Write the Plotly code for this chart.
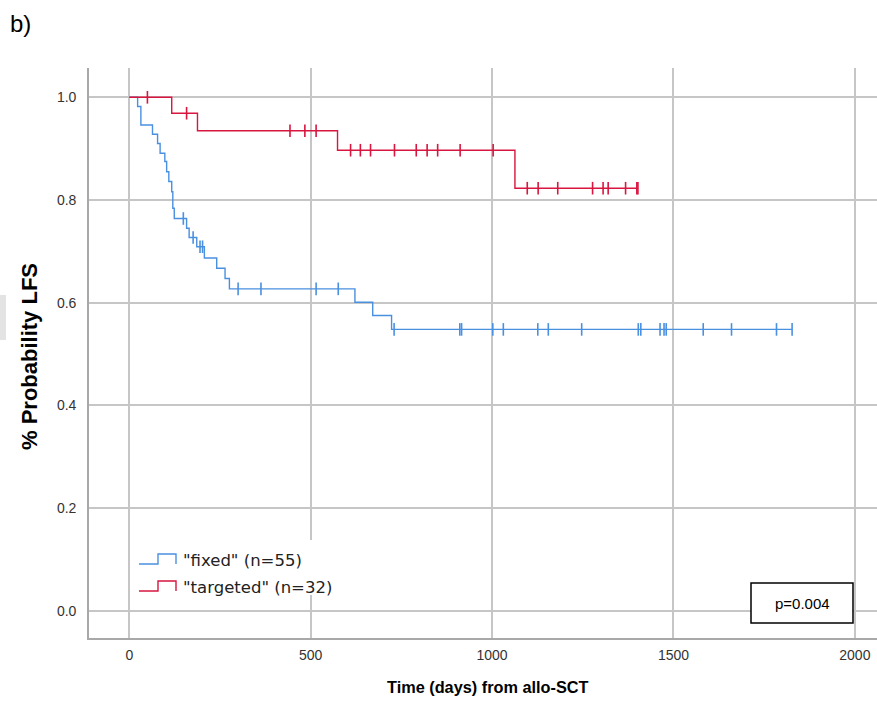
import numpy as np
import plotly.graph_objects as go

# ---------------- data ----------------
fixed_times = [0, 23, 32, 64, 78, 85, 98, 103, 109, 117, 120, 124, 158, 165, 186,
               207, 241, 264, 276, 622, 671, 723]
fixed_surv = [1.0, 0.982, 0.946, 0.928, 0.910, 0.891, 0.875, 0.855, 0.836, 0.816,
              0.784, 0.764, 0.745, 0.727, 0.709, 0.687, 0.667, 0.647, 0.627,
              0.601, 0.575, 0.548]
fixed_censor = [149, 176, 195, 202, 300, 363, 515, 576, 730, 911, 916, 1002, 1031,
                1126, 1155, 1247, 1403, 1410, 1463, 1474, 1480, 1582, 1660, 1784, 1827]

targ_times = [0, 117, 188, 574, 1063]
targ_surv = [1.0, 0.969, 0.935, 0.897, 0.823]
targ_censor = [50, 158, 443, 484, 515, 610, 637, 665, 731, 791, 821, 850, 912, 1003,
               1097, 1127, 1181, 1277, 1306, 1320, 1368, 1399, 1402]

legend_labels = ['"fixed" (n=55)', '"targeted" (n=32)']
x_ticks = [0, 500, 1000, 1500, 2000]
y_ticks = [0.0, 0.2, 0.4, 0.6, 0.8, 1.0]
y_ticktext = ["0.0", "0.2", "0.4", "0.6", "0.8", "1.0"]
p_text = "p=0.004"

BLUE = "#4a90e0"
RED = "#d8163f"

W, H = 877, 713
L, R, T, B = 89, 0, 68, 75


def px(x):
    return (x - L) / (W - L - R)


def py(y):
    return (H - B - y) / (H - T - B)


def step_value(times, surv, t):
    idx = np.searchsorted(np.asarray(times), np.asarray(t), side="right") - 1
    return np.asarray(surv)[idx]


fig = go.Figure()

for times, surv, cens, col, name in [
    (fixed_times, fixed_surv, fixed_censor, BLUE, legend_labels[0]),
    (targ_times, targ_surv, targ_censor, RED, legend_labels[1]),
]:
    end = max(cens)
    fig.add_trace(go.Scatter(
        x=list(times) + [end], y=list(surv) + [surv[-1]],
        mode="lines", line=dict(color=col, width=1.4, shape="hv"),
        name=name, showlegend=False, hoverinfo="skip"))
    fig.add_trace(go.Scatter(
        x=cens, y=step_value(times, surv, cens),
        mode="markers",
        marker=dict(symbol="line-ns", size=9, color=col, line=dict(color=col, width=1.6)),
        showlegend=False, hoverinfo="skip"))

shapes = []
annotations = []

# legend (custom, with step icons)
shapes.append(dict(type="rect", xref="paper", yref="paper",
                   x0=px(135), x1=px(336), y0=py(595), y1=py(540),
                   fillcolor="white", line=dict(width=0), layer="above"))
for (yl, yh), col, lab in [((564, 554), BLUE, legend_labels[0]),
                           ((591, 581), RED, legend_labels[1])]:
    path = "M {a},{b} L {c},{b} L {c},{d} L {e},{d} L {e},{b}".format(
        a=px(139), b=py(yl), c=px(158), d=py(yh), e=px(176))
    shapes.append(dict(type="path", xref="paper", yref="paper", path=path,
                       line=dict(color=col, width=1.4), layer="above"))
    annotations.append(dict(xref="paper", yref="paper", x=px(181), y=py(yl - 4),
                            text=lab, showarrow=False, xanchor="left", yanchor="middle",
                            font=dict(family="DejaVu Sans", size=16.5, color="#222")))

# p-value box
shapes.append(dict(type="rect", xref="paper", yref="paper",
                   x0=px(751), x1=px(853), y0=py(623), y1=py(583),
                   fillcolor="white", line=dict(color="black", width=1.5), layer="above"))
annotations.append(dict(xref="paper", yref="paper", x=px(802), y=py(603), text=p_text,
                        showarrow=False, xanchor="center", yanchor="middle",
                        font=dict(family="Liberation Sans, Arial", size=15, color="black")))

# faint grey mark on the left edge
shapes.append(dict(type="rect", xref="paper", yref="paper",
                   x0=px(0), x1=px(6), y0=py(340), y1=py(295),
                   fillcolor="rgba(200,200,200,0.5)", line=dict(width=0), layer="above"))

# panel label
annotations.append(dict(xref="paper", yref="paper", x=px(8), y=py(24), text="b)",
                        showarrow=False, xanchor="left", yanchor="middle",
                        font=dict(family="Liberation Sans, Arial", size=24, color="black")))
# axis titles
annotations.append(dict(xref="paper", yref="paper", x=px(487), y=py(687),
                        text="<b>Time (days) from allo-SCT</b>",
                        showarrow=False, xanchor="center", yanchor="middle",
                        font=dict(family="Liberation Sans, Arial", size=16.3, color="black")))
annotations.append(dict(xref="paper", yref="paper", x=px(29), y=py(357),
                        text="<b>% Probability LFS</b>", textangle=-90,
                        showarrow=False, xanchor="center", yanchor="middle",
                        font=dict(family="Liberation Sans, Arial", size=22, color="black")))

fig.update_layout(
    width=W, height=H,
    margin=dict(l=L, r=R, t=T, b=B, pad=0),
    paper_bgcolor="white", plot_bgcolor="white",
    showlegend=False,
    shapes=shapes, annotations=annotations,
    font=dict(family="Liberation Sans, Arial", color="#333"),
    xaxis=dict(range=[-111, 2061], tickvals=x_ticks, showgrid=True,
               gridcolor="#c6c6c6", gridwidth=1.6, zeroline=False,
               showline=True, linecolor="#a8a8a8", linewidth=1.6,
               ticks="outside", ticklen=3, tickcolor="rgba(0,0,0,0)",
               tickfont=dict(size=14, color="#333")),
    yaxis=dict(range=[-0.053, 1.0571], tickvals=y_ticks, ticktext=y_ticktext,
               showgrid=True, gridcolor="#c6c6c6", gridwidth=1.6, zeroline=False,
               showline=True, linecolor="#a8a8a8", linewidth=1.6,
               ticks="outside", ticklen=8, tickcolor="rgba(0,0,0,0)",
               tickfont=dict(size=14, color="#333")),
)

fig.write_html("out.html", config={"displayModeBar": False},
               post_script="document.body.style.margin='0';document.body.style.overflow='hidden';")
